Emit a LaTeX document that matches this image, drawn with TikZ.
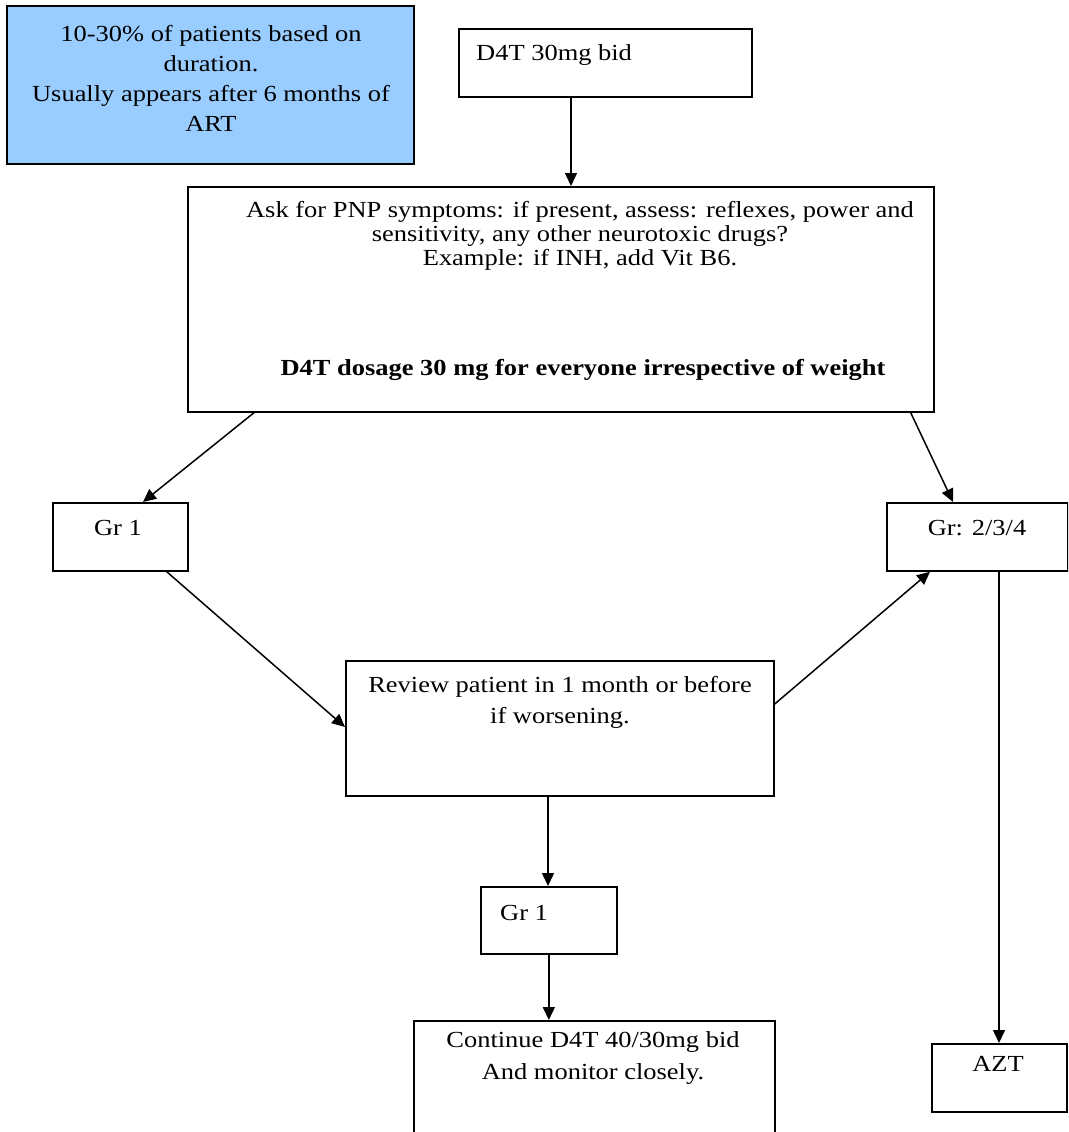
\documentclass[tikz,border=0pt]{standalone}
\usepackage{fontspec}
\setmainfont{Liberation Serif}[FakeStretch=1.15]
\usetikzlibrary{arrows.meta}
\definecolor{cbleu}{RGB}{153,204,255}

\begin{document}
\begin{tikzpicture}[x=1pt, y=-1pt, >={Triangle[length=13pt,width=12pt]},
  boite/.style={draw, line width=1.7pt, anchor=north west, inner sep=0pt},
  texte/.style={inner sep=0pt, align=center, font=\fontsize{23}{24}\selectfont},
  fleche/.style={->, line width=1.5pt}]
\clip (0,0) rectangle (1068,1132);
% cadres
\node[boite, fill=cbleu, minimum width=407pt, minimum height=158pt] (info) at (6,5) {};
\node[boite, minimum width=293pt, minimum height=68pt] (d4t) at (458,28) {};
\node[boite, minimum width=746pt, minimum height=225pt] (ask) at (187,186) {};
\node[boite, minimum width=135pt, minimum height=68pt] (grA) at (52,502) {};
\node[boite, minimum width=181pt, minimum height=68pt] (grB) at (886,502) {};
\node[boite, minimum width=428pt, minimum height=135pt] (review) at (345,660) {};
\node[boite, minimum width=136pt, minimum height=67pt] (grC) at (480,886) {};
\node[boite, minimum width=361pt, minimum height=140pt] (cont) at (413,1020) {};
\node[boite, minimum width=135pt, minimum height=68pt] (azt) at (931,1043) {};
% textes
\node[texte, font=\fontsize{23}{30}\selectfont] (infoT) at (211,78)
  {10-30\% of patients based on\\duration.\\Usually appears after 6 months of\\ART};
\node[texte, anchor=west] (d4tT) at (476,55) {D4T 30mg bid};
\node[texte] (askT) at (580,236) {Ask for PNP symptoms: if present, assess: reflexes, power and\\
  sensitivity, any other neurotoxic drugs?\\Example: if INH, add Vit B6.};
\node[texte, font=\fontsize{23}{24}\selectfont\bfseries] (doseT) at (583,370)
  {D4T dosage 30 mg for everyone irrespective of weight};
\node[texte] (grAT) at (118,528) {Gr 1};
\node[texte] (grBT) at (977,528) {Gr: 2/3/4};
\node[texte, font=\fontsize{23}{31}\selectfont] (reviewT) at (560,702)
  {Review patient in 1 month or before\\if worsening.};
\node[texte, anchor=west] (grCT) at (500,913) {Gr 1};
\node[texte, font=\fontsize{23}{32}\selectfont] (contT) at (593,1058)
  {Continue D4T 40/30mg bid\\And monitor closely.};
\node[texte] (aztT) at (998,1064) {AZT};
% fleches
\draw[fleche] ([xshift=113pt]d4t.south west) -- ([xshift=113pt]d4t.south west |- ask.north);
\draw[fleche] ([xshift=67pt]ask.south west) -- ([xshift=91pt]grA.north west);
\draw[fleche] ([xshift=-24pt]ask.south east) -- ([xshift=67pt]grB.north west);
\draw[fleche] ([xshift=-22pt]grA.south east) -- ([yshift=-67pt]review.north west);
\draw[fleche] ([yshift=-44pt]review.north east) -- ([xshift=44pt]grB.south west);
\draw[fleche] ([xshift=203pt]review.south west) -- ([xshift=203pt]review.south west |- grC.north);
\draw[fleche] (grC.south) -- (grC.south |- cont.north);
\draw[fleche] ([xshift=113pt]grB.south west) -- ([xshift=113pt]grB.south west |- azt.north);
\end{tikzpicture}
\end{document}
